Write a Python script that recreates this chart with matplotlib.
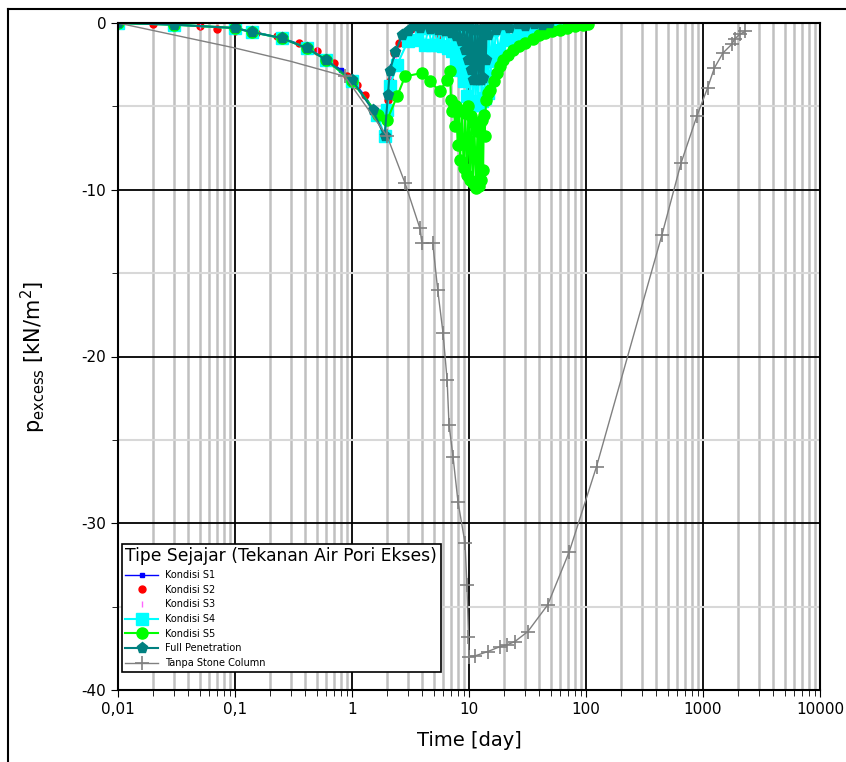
import matplotlib
matplotlib.use('Agg')
import matplotlib.pyplot as plt
from matplotlib.lines import Line2D
from matplotlib.ticker import FixedLocator, FixedFormatter, NullFormatter

plt.rcParams['font.family'] = 'DejaVu Sans'
plt.rcParams['axes.unicode_minus'] = False

# Kondisi S1 (blue line)
t_s1 = [0.01, 0.03, 0.1, 0.14, 0.25, 0.41, 0.6, 0.8, 1.0, 1.3, 1.5, 1.9, 2.0, 2.1, 2.2,
        2.4, 2.7, 3.2, 4.0, 6.0, 10.0, 20.0, 50.0]
p_s1 = [0, -0.1, -0.3, -0.5, -0.9, -1.4, -2.1, -2.8, -3.4, -4.4, -5.1, -6.8, -5.0, -3.5, -2.6,
        -1.6, -0.8, -0.4, -0.2, -0.1, -0.05, 0, 0]

# Kondisi S2 (red dots only)
t_s2 = [0.01, 0.02, 0.03, 0.05, 0.07, 0.1, 0.15, 0.23, 0.35, 0.5, 0.7, 0.9, 1.1, 1.3, 1.6, 1.9,
        2.0, 2.05, 2.1, 2.15, 2.3, 2.5, 2.9, 3.3, 4.5, 5.5, 8.0, 12.0]
p_s2 = [0, -0.05, -0.1, -0.2, -0.35, -0.5, -0.6, -0.8, -1.2, -1.7, -2.4, -3.2, -3.7, -4.3, -5.5, -6.8,
        -5.5, -4.6, -3.5, -2.8, -1.8, -1.2, -0.6, -0.3, -0.2, -0.7, -0.2, -0.1]

# Kondisi S3 (magenta ticks only)
t_s3 = [0.01, 0.05, 0.1, 0.25, 0.5, 1.0, 1.5, 1.9, 2.1, 2.4, 2.6, 3.0, 5.0, 9.0, 15.0]
p_s3 = [0, -0.2, -0.3, -0.9, -1.6, -3.4, -5.1, -6.8, -3.2, -1.9, -0.9, -0.5, -0.2, -0.1, -0.4]

# Kondisi S4 (cyan squares)
t_s4 = [0.01, 0.03, 0.1, 0.14, 0.25, 0.41, 0.6, 1.0, 1.65, 1.9, 2.0, 2.1, 2.43, 3.0, 3.6,
        3.9, 4.2, 4.5, 4.8, 5.1, 5.4, 5.7, 6.0, 6.3, 6.6, 6.9, 7.2, 7.5, 7.8, 8.1, 8.4, 8.7,
        9.0, 9.3, 9.6, 9.9, 10.2, 10.5, 10.8, 11.1, 11.4, 11.7, 12.0, 12.4, 12.8, 13.2, 13.6,
        14.0, 14.4, 14.8, 15.3, 15.8, 16.3, 17.0, 18.0, 19.5, 21.0, 23.0, 26.0, 29.0, 33.0,
        38.0, 43.0, 49.0, 55.0]
p_s4 = [0, -0.1, -0.3, -0.55, -0.9, -1.5, -2.2, -3.5, -5.5, -6.8, -5.2, -3.8, -2.5, -1.1, -1.0,
        -0.3, -1.3, -0.3, -1.3, -0.3, -1.3, -0.3, -1.4, -0.3, -1.5, -0.3, -1.7, -0.3, -2.2, -0.4,
        -2.8, -0.4, -3.5, -0.5, -4.4, -0.5, -4.7, -0.5, -4.9, -0.5, -4.9, -0.5, -4.9, -0.5, -4.7,
        -0.5, -4.5, -0.5, -4.2, -0.4, -3.2, -0.4, -2.3, -0.3, -1.6, -0.3, -1.0, -0.2, -0.8, -0.2,
        -0.6, -0.1, -0.4, -0.2, 0]

# Kondisi S5 (green circles)
t_s5 = [0.01, 0.03, 0.1, 0.14, 0.25, 0.41, 0.6, 1.0, 1.67, 2.0, 2.43, 2.84, 3.96, 4.65, 5.65,
        6.49, 6.9, 7.0, 7.2, 7.4, 7.6, 7.8, 8.0, 8.2, 8.4, 8.7, 9.0, 9.3, 9.6, 9.9, 10.2, 10.5,
        10.8, 11.1, 11.5, 11.8, 12.1, 12.4, 12.7, 13.0, 13.2, 13.4, 13.6, 14.0, 14.6, 15.2, 16.2,
        17.4, 18.5, 19.5, 21.5, 23.8, 26.5, 30.0, 35.0, 40.0, 45.0, 51.0, 60.0, 69.0, 80.0,
        94.0, 105.0]
p_s5 = [0, -0.1, -0.3, -0.55, -0.9, -1.5, -2.2, -3.5, -5.5, -5.8, -4.4, -3.2, -3.0, -3.5, -4.1,
        -3.4, -2.9, -4.6, -5.3, -4.9, -6.2, -5.0, -7.3, -5.2, -8.2, -5.3, -8.7, -5.4, -9.1, -5.0,
        -9.4, -5.6, -9.6, -6.0, -9.9, -6.5, -9.8, -6.0, -9.4, -5.8, -8.8, -5.5, -6.8, -4.6, -4.2,
        -4.0, -3.5, -3.0, -2.6, -2.2, -1.9, -1.6, -1.4, -1.2, -0.95, -0.7, -0.6, -0.5, -0.4, -0.3,
        -0.2, -0.1, -0.05]

# Full Penetration (teal)
t_fp = [0.01, 0.03, 0.1, 0.14, 0.25, 0.41, 0.6, 1.0, 1.5, 1.9, 2.03, 2.1, 2.34, 2.7, 3.0, 3.4,
        3.8, 4.2, 4.6, 5.0, 5.4, 5.8, 6.2, 6.6, 7.0, 7.4, 7.8, 8.2, 8.6, 9.0, 9.3, 9.6, 9.9,
        10.2, 10.4, 10.6, 10.9, 11.2, 11.5, 11.8, 12.1, 12.4, 12.7, 13.0, 13.3, 13.6, 13.9,
        14.2, 14.5, 15.2, 17.0, 19.0, 22.0, 26.0, 30.0, 36.0, 42.0, 48.0]
p_fp = [0, -0.1, -0.3, -0.55, -0.9, -1.5, -2.2, -3.4, -5.2, -6.8, -4.3, -2.9, -1.75, -0.7, -0.5, -0.2,
        -0.3, -0.05, -0.35, -0.1, -0.4, -0.1, -0.5, -0.1, -0.6, -0.1, -0.8, -0.1, -1.1, -0.2, -1.6,
        -0.2, -2.2, -0.3, -2.8, -0.4, -3.4, -0.4, -3.4, -0.4, -3.4, -0.4, -3.4, -0.4, -3.3, -0.3,
        -2.2, -0.2, -0.7, -0.1, -0.4, -0.1, -0.3, -0.05, -0.2, -0.05, -0.1, 0]

# Tanpa Stone Column (grey)
t_ts = [0.01, 0.1, 0.3, 0.87, 2.0, 2.84, 3.8, 3.96, 4.9, 5.4, 6.0, 6.5, 6.75, 7.3, 8.05, 9.25,
        9.6, 9.9, 10.0, 11.2, 14.4, 18.4, 21.0, 24.6, 31.8, 47.0, 72.0, 123.0, 446.0, 649.0,
        885.0, 1093.0, 1250.0, 1480.0, 1770.0, 1860.0, 2080.0, 2300.0]
p_ts = [0, -1.5, -2.3, -3.2, -6.8, -9.6, -12.3, -13.2, -13.2, -16.0, -18.6, -21.4, -24.1, -26.0,
        -28.7, -31.2, -33.7, -36.8, -38.0, -37.96, -37.7, -37.4, -37.3, -37.1, -36.5, -34.9, -31.7,
        -26.6, -12.7, -8.4, -5.6, -3.9, -2.7, -1.8, -1.26, -0.96, -0.66, -0.5]

x_ticks = [0.01, 0.1, 1, 10, 100, 1000, 10000]
x_labels = ['0,01', '0,1', '1', '10', '100', '1000', '10000']
y_ticks = [0, -10, -20, -30, -40]

fig = plt.figure(figsize=(8.46, 7.62), dpi=100)
ax = fig.add_axes([118 / 846, 72 / 762, 702 / 846, 667 / 762])

ax.plot(t_s1, p_s1, color='#0000ff', lw=1, marker='s', ms=3, label='Kondisi S1')
ax.plot(t_s2, p_s2, color='#ff0000', ls='none', marker='o', ms=5, label='Kondisi S2')
ax.plot(t_s3, p_s3, color='#ff66ff', ls='none', marker='|', ms=5, label='Kondisi S3')
ax.plot(t_s4, p_s4, color='#00ffff', lw=1.5, marker='s', ms=8, label='Kondisi S4')
ax.plot(t_s5, p_s5, color='#00ff00', lw=1.5, marker='o', ms=8, label='Kondisi S5')
ax.plot(t_fp, p_fp, color='#008080', lw=1.5, marker='p', ms=8, label='Full Penetration')
ax.plot(t_ts, p_ts, color='#808080', lw=1, marker='+', ms=10, mew=1.2,
        markevery=list(range(3, len(t_ts))), label='Tanpa Stone Column')

ax.set_xscale('log')
ax.set_xlim(0.01, 10000)
ax.set_ylim(-40, 0)

ax.xaxis.set_major_locator(FixedLocator(x_ticks))
ax.xaxis.set_major_formatter(FixedFormatter(x_labels))
ax.xaxis.set_minor_formatter(NullFormatter())
ax.set_yticks(y_ticks)
ax.set_yticks([-5, -15, -25, -35], minor=True)

ax.grid(True, which='major', axis='both', color='black', lw=1.3)
ax.grid(True, which='minor', axis='x', color='#c0c0c0', lw=1.8)
ax.grid(True, which='minor', axis='y', color='#d8d8d8', lw=1.5)
ax.set_axisbelow(True)

ax.tick_params(which='major', direction='out', length=5, labelsize=11)
ax.tick_params(which='minor', direction='out', length=4)
for sp in ax.spines.values():
    sp.set_linewidth(1.5)

ax.set_xlabel('Time [day]', fontsize=14, labelpad=10)
ax.set_ylabel(r'p$_{\mathregular{excess}}$ [kN/m$^{\mathregular{2}}$]', fontsize=15)
ax.yaxis.set_label_coords(-0.10, 0.5)

leg = ax.legend(loc='lower left', bbox_to_anchor=(0.005, 0.027), borderaxespad=0,
                title='Tipe Sejajar (Tekanan Air Pori Ekses)', title_fontsize=12.3,
                fontsize=7, fancybox=False, edgecolor='black', framealpha=1,
                handlelength=3.4, handletextpad=0.7, labelspacing=0.48, alignment='left')
leg.get_frame().set_linewidth(1.2)

# outer frame lines at top and left
fig.add_artist(Line2D([8 / 846, 1], [1 - 9 / 762, 1 - 9 / 762], color='black', lw=1.5))
fig.add_artist(Line2D([8 / 846, 8 / 846], [0, 1 - 9 / 762], color='black', lw=1.5))

fig.savefig('out.png', dpi=100)
